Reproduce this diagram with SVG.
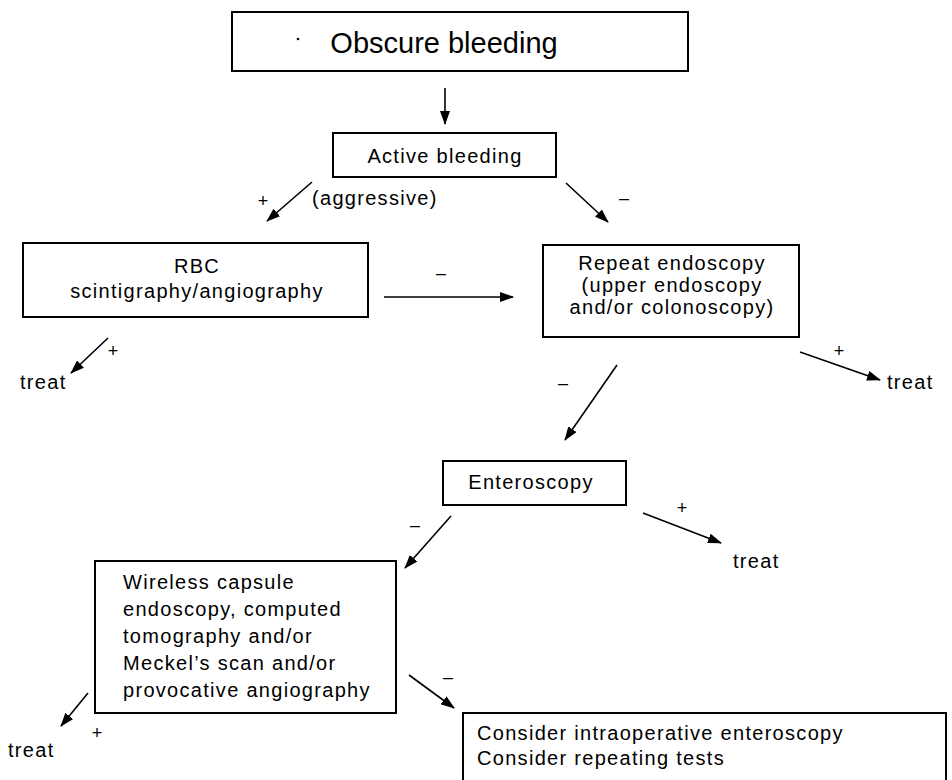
<svg xmlns="http://www.w3.org/2000/svg" width="952" height="780" viewBox="0 0 952 780">
<style>
  .box { fill: #fff; stroke: #000; stroke-width: 2; }
  .t { font-family: "Liberation Sans", Arial, sans-serif; font-size: 20px; letter-spacing: 1.3px; fill: #000; }
  .c { text-anchor: middle; }
  .title { font-family: "Liberation Sans", Arial, sans-serif; font-size: 29px; fill: #000; text-anchor: middle; }
  .lbl { font-family: "Liberation Sans", Arial, sans-serif; font-size: 18px; fill: #000; text-anchor: middle; }
  .arr { stroke: #000; stroke-width: 1.6; fill: none; marker-end: url(#ah); }
</style>
<defs>
  <marker id="ah" markerUnits="userSpaceOnUse" markerWidth="14" markerHeight="10" refX="13" refY="5" orient="auto">
    <path d="M0,0 L14,5 L0,10 Z" fill="#000"/>
  </marker>
</defs>
<rect width="952" height="780" fill="#fff"/>

<g id="n-obscure">
  <rect class="box" x="232" y="12" width="456" height="59"/>
  <circle cx="298" cy="39" r="1.3" fill="#000"/>
  <text class="title" x="444" y="53">Obscure bleeding</text>
</g>

<g id="n-active">
  <rect class="box" x="333" y="133" width="223" height="44"/>
  <text class="t c" x="445" y="163">Active bleeding</text>
</g>

<g id="n-rbc">
  <rect class="box" x="23" y="243" width="345" height="74"/>
  <text class="t c" x="197" y="273">RBC</text>
  <text class="t c" x="197" y="298">scintigraphy/angiography</text>
</g>

<g id="n-repeat">
  <rect class="box" x="543" y="245" width="256" height="92"/>
  <text class="t c" x="672" y="270">Repeat endoscopy</text>
  <text class="t c" x="672" y="292">(upper endoscopy</text>
  <text class="t c" x="672" y="314">and/or colonoscopy)</text>
</g>

<g id="n-entero">
  <rect class="box" x="443" y="461" width="183" height="44"/>
  <text class="t c" x="531" y="489">Enteroscopy</text>
</g>

<g id="n-wireless">
  <rect class="box" x="95" y="561" width="301" height="152"/>
  <text class="t" x="123" y="589">Wireless capsule</text>
  <text class="t" x="123" y="616">endoscopy, computed</text>
  <text class="t" x="123" y="643">tomography and/or</text>
  <text class="t" x="123" y="670">Meckel’s scan and/or</text>
  <text class="t" x="123" y="697">provocative angiography</text>
</g>

<g id="n-consider">
  <rect class="box" x="463" y="713" width="483" height="80"/>
  <text class="t" x="477" y="740">Consider intraoperative enteroscopy</text>
  <text class="t" x="477" y="765">Consider repeating tests</text>
</g>

<g id="n-treat1"><text class="t" x="20" y="389">treat</text></g>
<g id="n-treat2"><text class="t" x="887" y="389">treat</text></g>
<g id="n-treat3"><text class="t" x="733" y="568">treat</text></g>
<g id="n-treat4"><text class="t" x="8" y="757">treat</text></g>

<g id="connectors">
  <line class="arr" x1="445" y1="88" x2="445" y2="124"/>

  <line class="arr" x1="312" y1="182" x2="267" y2="221"/>
  <text class="lbl" x="263" y="207">+</text>
  <text class="t" x="312" y="205">(aggressive)</text>

  <line class="arr" x1="566" y1="183" x2="608" y2="222"/>
  <text class="lbl" x="624" y="204">–</text>

  <line class="arr" x1="384" y1="297" x2="513" y2="297"/>
  <text class="lbl" x="441" y="279">–</text>

  <line class="arr" x1="108" y1="338" x2="71" y2="373"/>
  <text class="lbl" x="113" y="357">+</text>

  <line class="arr" x1="800" y1="352" x2="880" y2="380"/>
  <text class="lbl" x="839" y="357">+</text>

  <line class="arr" x1="617" y1="365" x2="565" y2="440"/>
  <text class="lbl" x="563" y="389">–</text>

  <line class="arr" x1="643" y1="513" x2="721" y2="543"/>
  <text class="lbl" x="682" y="514">+</text>

  <line class="arr" x1="451" y1="516" x2="405" y2="568"/>
  <text class="lbl" x="415" y="531">–</text>

  <line class="arr" x1="88" y1="693" x2="61" y2="726"/>
  <text class="lbl" x="97" y="739">+</text>

  <line class="arr" x1="409" y1="675" x2="454" y2="708"/>
  <text class="lbl" x="448" y="683">–</text>
</g>
</svg>
